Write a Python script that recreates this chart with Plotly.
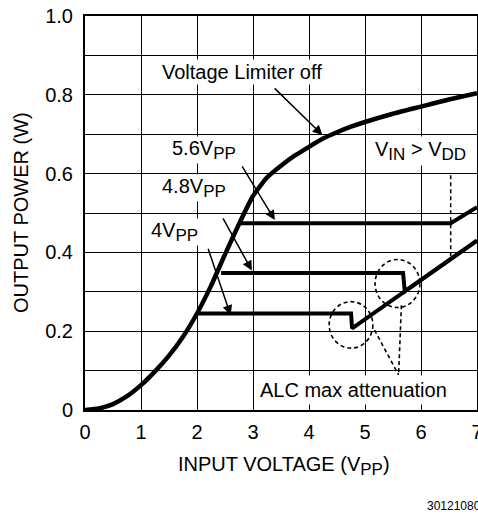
import plotly.graph_objects as go

# ---- data ----
limiter_x = [0, 0.25, 0.5, 0.75, 1.0, 1.25, 1.5, 1.75, 2.0, 2.25, 2.5, 2.75, 3.0, 3.25, 3.5, 3.75, 4.0, 4.25, 4.5, 4.75, 5.0, 5.5, 6.0, 6.5, 7.0]
limiter_y = [0, 0.004, 0.015, 0.035, 0.063, 0.098, 0.138, 0.186, 0.245, 0.315, 0.395, 0.472, 0.543, 0.590, 0.620, 0.646, 0.668, 0.689, 0.705, 0.719, 0.731, 0.752, 0.770, 0.788, 0.804]

v4_x = [2.0, 4.75, 4.77, 7.0]
v4_y = [0.245, 0.245, 0.207, 0.43]

v48_x = [2.43, 5.68, 5.71, 7.0]
v48_y = [0.348, 0.348, 0.301, 0.43]

v56_x = [2.77, 6.53, 7.0]
v56_y = [0.474, 0.474, 0.515]

vdd_x = [6.53, 6.53]
vdd_y = [0.596, 0.383]

x_ticks = [0, 1, 2, 3, 4, 5, 6, 7]
y_ticks = [0, 0.1, 0.2, 0.3, 0.4, 0.5, 0.6, 0.7, 0.8, 0.9, 1.0]
y_ticktext = ["0", "", "0.2", "", "0.4", "", "0.6", "", "0.8", "", "1.0"]

FONT = "Liberation Sans, Arial, Helvetica, sans-serif"
FS = 20


def sub(s):
    return '<sub><span style="font-size:17px">' + s + '</span></sub>'


fig = go.Figure()
fig.add_trace(go.Scatter(x=limiter_x, y=limiter_y, mode="lines",
                         line=dict(color="black", width=4.5, shape="spline", smoothing=0.5)))
fig.add_trace(go.Scatter(x=v4_x, y=v4_y, mode="lines", line=dict(color="black", width=4)))
fig.add_trace(go.Scatter(x=v48_x, y=v48_y, mode="lines", line=dict(color="black", width=4)))
fig.add_trace(go.Scatter(x=v56_x, y=v56_y, mode="lines", line=dict(color="black", width=4)))
fig.add_trace(go.Scatter(x=vdd_x, y=vdd_y, mode="lines", line=dict(color="black", width=1.5, dash="4px,3px")))

# dashed circles and pointer lines
dash = dict(color="black", width=1.6, dash="4px,3px")
fig.add_shape(type="circle", xref="x", yref="y", x0=4.36, x1=5.14, y0=0.157, y1=0.275, line=dash)
fig.add_shape(type="circle", xref="x", yref="y", x0=5.18, x1=5.98, y0=0.26, y1=0.382, line=dash)
fig.add_shape(type="line", xref="x", yref="y", x0=5.17, y0=0.203, x1=5.6, y1=0.089, line=dash)
fig.add_shape(type="line", xref="x", yref="y", x0=5.65, y0=0.266, x1=5.6, y1=0.089, line=dash)

tf = dict(family=FONT, size=FS, color="black")
ann = []
# labels
ann.append(dict(x=2.81, y=0.859, text="Voltage Limiter off", showarrow=False, bgcolor="white",
                xanchor="center", yanchor="middle", font=tf, borderpad=1))
ann.append(dict(x=1.54, y=0.660, text="5.6V" + sub("PP"), showarrow=False, bgcolor="white",
                xanchor="left", yanchor="middle", font=tf, borderpad=0))
ann.append(dict(x=1.36, y=0.563, text="4.8V" + sub("PP"), showarrow=False, bgcolor="white",
                xanchor="left", yanchor="middle", font=tf, borderpad=0))
ann.append(dict(x=1.16, y=0.452, text="4V" + sub("PP"), showarrow=False, bgcolor="white",
                xanchor="left", yanchor="middle", font=tf, borderpad=0))
ann.append(dict(x=5.14, y=0.658, text="V" + sub("IN") + " > V" + sub("DD"), showarrow=False, bgcolor="white",
                xanchor="left", yanchor="middle", font=tf, borderpad=1))
ann.append(dict(x=4.8, y=0.05, text="ALC max attenuation", showarrow=False, bgcolor="white",
                xanchor="center", yanchor="middle", font=tf, borderpad=3))
# arrows
for (tx, ty, sx, sy) in [(4.24, 0.698, 3.36, 0.82), (3.39, 0.482, 2.79, 0.622),
                         (2.98, 0.354, 2.45, 0.49), (2.6, 0.241, 2.19, 0.413)]:
    ann.append(dict(x=tx, y=ty, ax=sx, ay=sy, axref="x", ayref="y", xref="x", yref="y",
                    text="", showarrow=True, arrowhead=2, arrowsize=1.3, arrowwidth=1.5,
                    arrowcolor="black", standoff=0))
# axis titles
ann.append(dict(x=0, y=0.5, xref="paper", yref="paper", xshift=-64, text="OUTPUT POWER (W)",
                textangle=-90, showarrow=False, font=tf, xanchor="center", yanchor="middle"))
ann.append(dict(x=0.508, y=0, xref="paper", yref="paper", yshift=-41, text="INPUT VOLTAGE (V" + sub("PP") + ")",
                showarrow=False, font=tf, xanchor="center", yanchor="top"))
ann.append(dict(x=(425 - 85) / 392, y=0, xref="paper", yref="paper", yshift=-87, text="30121080",
                showarrow=False, font=dict(family=FONT, size=12, color="black"), xanchor="left", yanchor="top"))
for a in ann:
    a.setdefault("xref", "x")
    a.setdefault("yref", "y")
fig.update_layout(annotations=ann)

fig.update_layout(
    width=478, height=514,
    margin=dict(l=85, r=1, t=16, b=104, autoexpand=False),
    paper_bgcolor="white", plot_bgcolor="white",
    showlegend=False,
    font=dict(family=FONT, size=FS, color="black"),
)
fig.update_xaxes(range=[0, 7], tickvals=x_ticks, showgrid=True, gridcolor="black", gridwidth=1.3,
                 showline=True, linecolor="black", linewidth=2, mirror=True,
                 ticks="", ticklabelstandoff=3, zeroline=False, tickfont=tf, automargin=False,
                 ticklabeloverflow="allow")
fig.update_yaxes(range=[0, 1.0], tickvals=y_ticks, ticktext=y_ticktext, showgrid=True, gridcolor="black",
                 gridwidth=1.3, showline=True, linecolor="black", linewidth=2, mirror=True,
                 ticks="", ticklabelstandoff=6, zeroline=False, tickfont=tf, automargin=False,
                 ticklabeloverflow="allow")

# remove the default page margin so the 478x514 figure fills the window exactly
fig.write_html("out.html", config={"displayModeBar": False},
               post_script="document.body.style.margin='0';document.body.style.overflow='hidden';")
